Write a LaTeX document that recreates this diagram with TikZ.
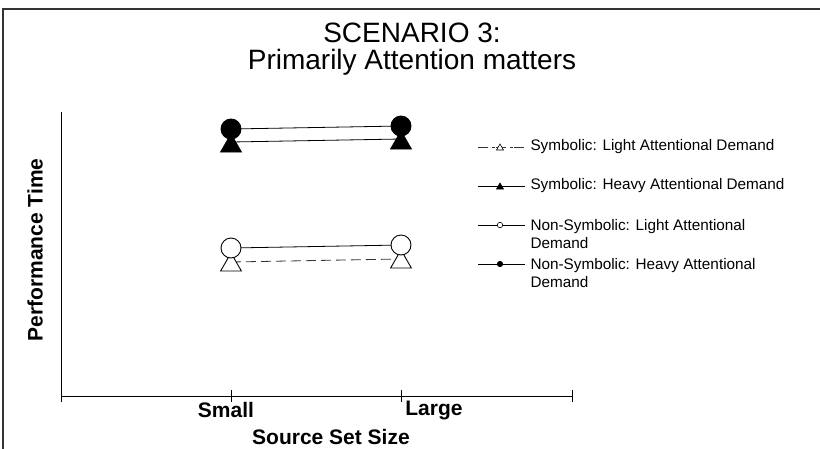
\documentclass[tikz,border=0pt]{standalone}
\usepackage{fontspec}
\setmainfont{Liberation Sans}
\usetikzlibrary{shapes.geometric}
\begin{document}
\begin{tikzpicture}[x=1pt,y=-1pt,
  frameline/.style={line width=1.3pt,draw=black!80},
  axisline/.style={line width=0.9pt,draw=black},
  plotline/.style={line width=0.8pt,draw=black},
  dashline/.style={line width=0.8pt,draw=black!80,dash pattern=on 10pt off 5pt},
  bigcirc/.style={circle,draw=black,line width=0.9pt,minimum size=20pt,inner sep=0pt},
  bigtri/.style={regular polygon,regular polygon sides=3,draw=black,line width=0.9pt,minimum size=24pt,inner sep=0pt},
  smallcirc/.style={circle,draw=black,line width=0.6pt,minimum size=5.5pt,inner sep=0pt},
  smalltri/.style={regular polygon,regular polygon sides=3,draw=black,line width=0.6pt,minimum size=8pt,inner sep=0pt},
  titletext/.style={font=\fontsize{28}{27}\selectfont,align=center},
  axislabel/.style={font=\bfseries\fontsize{21}{24}\selectfont},
  legtext/.style={font=\fontsize{15.3}{17.5}\selectfont,anchor=west,align=left}
]
\useasboundingbox (0,0) rectangle (820,448);
% frame (only top and left edges visible)
\coordinate (fTL) at (3,9);
\coordinate (fTR) at (821,9);
\coordinate (fBL) at (3,449);
\draw[frameline] (fTR) -- (fTL) -- (fBL);

% title
\node[titletext] (title) at (412,49) {SCENARIO 3:\\Primarily Attention matters};

% axes
\coordinate (yTop) at (61,112);
\coordinate (origin) at (61,396);
\coordinate (xEnd) at (572,396);
\draw[axisline] (yTop) -- (origin) -- (xEnd);
\foreach \n/\x in {t0/61,t1/231,t2/401,t3/572}{
  \coordinate (\n a) at (\x,390);
  \coordinate (\n b) at (\x,402);
  \draw[axisline] (\n a) -- (\n b);
}
\node[axislabel] (small) at (226,410) {Small};
\node[axislabel] (large) at (434,410) {Large};
\node[axislabel] (xlab) at (331,437) {Source Set Size};
\node[axislabel,rotate=90] (ylab) at (35,250) {Performance Time};

% line end points
\coordinate (c1L) at (231,129);
\coordinate (c1R) at (401,126);
\coordinate (t1L) at (231,142);
\coordinate (t1R) at (401,139);
\coordinate (c2L) at (231,248);
\coordinate (c2R) at (401,245);
\coordinate (t2L) at (231,262);
\coordinate (t2R) at (401,259);
\draw[plotline] (c1L) -- (c1R);
\draw[plotline] (t1L) -- (t1R);
\draw[plotline] (c2L) -- (c2R);
\draw[dashline] (t2L) -- (t2R);

% markers: heavy (filled)
\node[bigtri,fill=black] (hTL) at (231,146) {};
\node[bigtri,fill=black] (hTR) at (401,143) {};
\node[bigcirc,fill=black] (hCL) at (c1L) {};
\node[bigcirc,fill=black] (hCR) at (c1R) {};
% markers: light (open)
\node[bigtri,fill=white] (lTL) at (231,265) {};
\node[bigtri,fill=white] (lTR) at (401,262) {};
\node[bigcirc,fill=white] (lCL) at (c2L) {};
\node[bigcirc,fill=white] (lCR) at (c2R) {};

% legend
\foreach \n/\y in {1/147,2/186,3/225,4/264}{
  \coordinate (L\n a) at (478,\y);
  \coordinate (L\n b) at (525,\y);
}
\draw[line width=0.8pt,draw=black!80,dash pattern=on 10pt off 4pt on 3pt off 1pt] (L1a) -- (L1b);
\draw[plotline] (L2a) -- (L2b);
\draw[plotline] (L3a) -- (L3b);
\draw[plotline] (L4a) -- (L4b);
\node[smalltri,fill=white] (m1) at (500,148) {};
\node[smalltri,fill=black] (m2) at (500,187) {};
\node[smallcirc,fill=white] (m3) at (500,225) {};
\node[smallcirc,fill=black] (m4) at (500,264) {};
\node[legtext] (g1) at (527,147) {Symbolic: Light Attentional Demand};
\node[legtext] (g2) at (527,186) {Symbolic: Heavy Attentional Demand};
\node[legtext,anchor=north west] (g3) at (527,216) {Non-Symbolic: Light Attentional\\Demand};
\node[legtext,anchor=north west] (g4) at (527,255) {Non-Symbolic: Heavy Attentional\\Demand};
\end{tikzpicture}
\end{document}
